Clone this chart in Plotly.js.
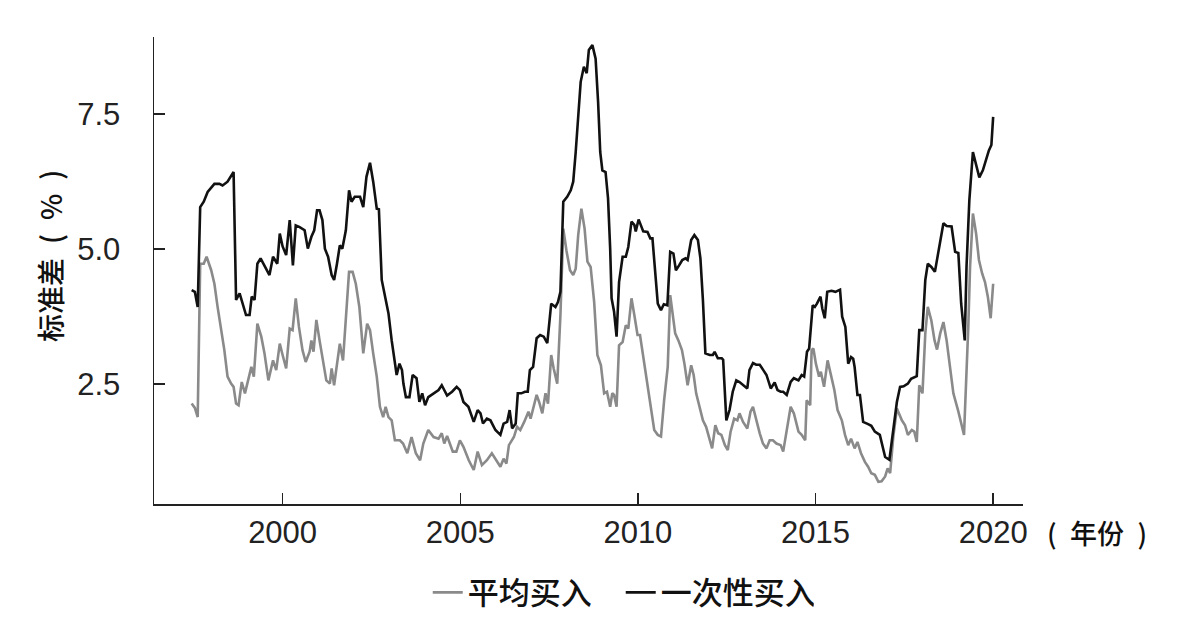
<!DOCTYPE html>
<html>
<head>
<meta charset="utf-8">
<script src="https://cdn.plot.ly/plotly-3.0.1.min.js"></script>
<style>html,body{margin:0;padding:0;background:#fff;}#chart{width:1182px;height:632px;}</style>
</head>
<body>
<div id="chart"></div>
<script>
// 平均买入 (dollar-cost averaging) — date (decimal year) and standard deviation (%)
const avgDates = [1997.44,1997.53,1997.61,1997.68,1997.78,1997.86,1997.99,1998.08,1998.17,1998.26,1998.36,1998.45,1998.55,1998.62,1998.69,1998.76,1998.85,1998.94,1999.02,1999.12,1999.19,1999.29,1999.40,1999.49,1999.60,1999.73,1999.82,1999.92,2000.00,2000.10,2000.20,2000.28,2000.37,2000.46,2000.56,2000.65,2000.76,2000.81,2000.87,2000.95,2001.04,2001.14,2001.23,2001.33,2001.38,2001.45,2001.52,2001.61,2001.70,2001.80,2001.87,2001.97,2002.06,2002.16,2002.27,2002.38,2002.46,2002.55,2002.65,2002.74,2002.83,2002.90,2002.98,2003.07,2003.16,2003.30,2003.39,2003.51,2003.63,2003.75,2003.87,2003.96,2004.10,2004.25,2004.39,2004.48,2004.55,2004.63,2004.79,2004.89,2004.99,2005.09,2005.24,2005.38,2005.49,2005.61,2005.75,2005.89,2006.03,2006.13,2006.22,2006.30,2006.37,2006.51,2006.60,2006.69,2006.80,2006.92,2006.98,2007.15,2007.22,2007.31,2007.40,2007.47,2007.56,2007.63,2007.73,2007.82,2007.90,2007.99,2008.09,2008.18,2008.25,2008.32,2008.41,2008.50,2008.58,2008.67,2008.77,2008.86,2008.96,2009.05,2009.13,2009.22,2009.28,2009.33,2009.40,2009.47,2009.57,2009.66,2009.73,2009.82,2009.90,2009.99,2010.06,2010.18,2010.27,2010.37,2010.46,2010.56,2010.65,2010.74,2010.84,2010.91,2010.97,2011.05,2011.14,2011.24,2011.31,2011.40,2011.50,2011.57,2011.64,2011.74,2011.83,2011.92,2012.02,2012.09,2012.18,2012.26,2012.35,2012.45,2012.53,2012.61,2012.71,2012.80,2012.86,2012.96,2013.08,2013.17,2013.24,2013.33,2013.43,2013.52,2013.62,2013.71,2013.80,2013.90,2014.02,2014.09,2014.19,2014.30,2014.39,2014.52,2014.61,2014.71,2014.75,2014.85,2014.89,2014.94,2015.01,2015.10,2015.15,2015.24,2015.34,2015.43,2015.53,2015.62,2015.74,2015.83,2015.92,2016.00,2016.10,2016.18,2016.28,2016.39,2016.48,2016.57,2016.67,2016.77,2016.86,2016.96,2017.03,2017.10,2017.19,2017.29,2017.43,2017.52,2017.60,2017.71,2017.78,2017.85,2017.92,2018.01,2018.09,2018.16,2018.26,2018.35,2018.42,2018.51,2018.60,2018.69,2018.79,2018.88,2019.01,2019.12,2019.18,2019.30,2019.35,2019.43,2019.52,2019.60,2019.69,2019.77,2019.85,2019.93,2020.00];
const avgValues = [2.14,2.06,1.89,4.73,4.73,4.86,4.61,4.36,3.93,3.56,3.13,2.64,2.51,2.45,2.14,2.11,2.54,2.33,2.57,2.82,2.64,3.62,3.38,3.07,2.57,2.94,2.76,3.25,3.04,2.79,3.53,3.50,4.09,3.56,3.13,2.91,3.10,3.31,3.10,3.69,3.31,2.88,2.57,2.51,2.79,2.48,2.82,3.25,2.94,4.02,4.58,4.58,4.36,3.93,3.07,3.62,3.50,3.07,2.64,2.08,1.89,2.08,1.89,1.83,1.46,1.46,1.40,1.22,1.52,1.22,1.09,1.40,1.65,1.52,1.49,1.59,1.40,1.54,1.25,1.25,1.46,1.34,1.09,0.91,1.25,1.00,1.09,1.22,1.06,0.97,1.12,1.03,1.37,1.52,1.71,1.65,1.80,1.99,1.86,2.30,2.17,1.96,2.33,2.14,3.04,2.79,2.51,3.78,5.38,4.97,4.61,4.52,4.64,5.26,5.75,5.38,4.77,4.67,4.02,3.04,2.85,2.33,2.36,2.08,2.33,2.30,2.08,3.22,3.28,3.59,3.53,4.09,3.78,3.41,3.41,2.86,2.45,2.08,1.65,1.56,1.53,2.21,2.82,4.15,3.87,3.44,3.31,3.13,2.88,2.48,2.85,2.67,2.33,2.05,1.83,1.71,1.49,1.31,1.74,1.59,1.56,1.37,1.28,1.62,1.86,1.83,1.96,1.80,1.68,1.99,2.08,1.83,1.59,1.40,1.31,1.46,1.46,1.40,1.37,1.25,1.68,2.08,1.96,1.62,1.56,1.46,2.20,2.11,3.13,3.16,2.88,2.64,2.73,2.45,2.94,2.70,2.39,2.02,1.83,1.56,1.37,1.49,1.31,1.43,1.22,1.06,0.97,0.85,0.82,0.69,0.70,0.79,0.94,0.85,1.53,2.05,1.83,1.74,1.56,1.65,1.62,1.43,2.48,2.33,3.44,3.93,3.68,3.31,3.14,3.44,3.65,3.31,2.82,2.33,2.02,1.71,1.56,3.56,4.67,5.66,5.29,4.80,4.55,4.39,4.12,3.72,4.36];

// 一次性买入 (lump-sum) — date (decimal year) and standard deviation (%)
const lumpDates = [1997.44,1997.53,1997.61,1997.68,1997.78,1997.89,1998.08,1998.22,1998.31,1998.45,1998.62,1998.69,1998.79,1998.88,1998.97,1999.07,1999.13,1999.21,1999.29,1999.38,1999.49,1999.63,1999.73,1999.85,1999.92,2000.00,2000.10,2000.20,2000.29,2000.37,2000.48,2000.62,2000.71,2000.81,2000.89,2000.97,2001.04,2001.12,2001.19,2001.28,2001.38,2001.45,2001.53,2001.61,2001.68,2001.78,2001.87,2001.94,2002.03,2002.18,2002.27,2002.36,2002.46,2002.55,2002.65,2002.71,2002.79,2002.88,2002.98,2003.07,2003.16,2003.21,2003.29,2003.36,2003.40,2003.47,2003.57,2003.66,2003.77,2003.85,2003.93,2004.01,2004.10,2004.25,2004.39,2004.48,2004.63,2004.77,2004.90,2004.99,2005.09,2005.23,2005.38,2005.49,2005.57,2005.64,2005.75,2005.85,2005.99,2006.13,2006.22,2006.32,2006.39,2006.46,2006.56,2006.62,2006.72,2006.82,2006.90,2006.96,2007.05,2007.15,2007.25,2007.35,2007.45,2007.56,2007.68,2007.75,2007.82,2007.90,2008.01,2008.11,2008.18,2008.25,2008.32,2008.39,2008.48,2008.56,2008.62,2008.72,2008.81,2008.88,2008.94,2009.00,2009.09,2009.16,2009.22,2009.26,2009.33,2009.40,2009.47,2009.57,2009.66,2009.73,2009.82,2009.90,2009.94,2010.02,2010.08,2010.15,2010.27,2010.35,2010.41,2010.48,2010.56,2010.65,2010.73,2010.83,2010.91,2011.00,2011.07,2011.16,2011.25,2011.34,2011.40,2011.50,2011.59,2011.69,2011.76,2011.83,2011.90,2012.02,2012.11,2012.16,2012.25,2012.36,2012.40,2012.49,2012.58,2012.67,2012.77,2012.86,2012.96,2013.08,2013.14,2013.24,2013.33,2013.43,2013.53,2013.62,2013.74,2013.85,2013.93,2014.02,2014.09,2014.19,2014.30,2014.39,2014.52,2014.61,2014.68,2014.76,2014.82,2014.87,2014.92,2014.98,2015.04,2015.14,2015.19,2015.26,2015.33,2015.45,2015.56,2015.69,2015.75,2015.84,2015.92,2016.00,2016.06,2016.10,2016.18,2016.25,2016.34,2016.48,2016.57,2016.67,2016.81,2016.89,2016.96,2017.08,2017.19,2017.29,2017.38,2017.48,2017.60,2017.69,2017.85,2017.92,2018.01,2018.09,2018.16,2018.26,2018.36,2018.46,2018.54,2018.60,2018.69,2018.83,2018.93,2019.02,2019.10,2019.20,2019.25,2019.33,2019.43,2019.52,2019.61,2019.71,2019.80,2019.88,2019.95,2020.00];
const lumpValues = [4.24,4.21,3.93,5.78,5.88,6.06,6.21,6.21,6.18,6.25,6.43,4.06,4.18,3.99,3.78,3.78,4.12,4.06,4.73,4.83,4.70,4.52,4.86,4.73,5.29,5.05,4.89,5.54,4.70,5.44,5.41,5.35,5.01,5.23,5.35,5.72,5.72,5.54,5.01,4.86,4.52,4.43,4.73,5.07,5.01,5.35,6.09,5.88,5.97,5.97,5.78,6.34,6.60,6.25,5.75,5.74,4.43,4.12,3.81,3.31,2.94,2.67,2.88,2.76,2.51,2.26,2.26,2.67,2.61,2.17,2.33,2.11,2.26,2.33,2.39,2.48,2.29,2.36,2.45,2.39,2.17,2.08,1.80,2.02,1.96,1.77,1.86,1.83,1.65,1.56,1.77,1.80,2.02,1.68,1.77,2.33,2.33,2.36,2.36,2.76,2.82,3.35,3.41,3.38,3.26,3.99,3.93,4.02,4.21,5.88,5.97,6.09,6.25,6.80,7.42,8.10,8.38,8.26,8.69,8.78,8.53,7.73,6.80,6.46,6.43,5.94,5.01,4.09,3.84,3.38,4.39,4.86,4.86,5.04,5.51,5.45,5.33,5.55,5.45,5.33,5.32,5.20,5.20,4.67,3.99,3.87,3.98,3.96,4.95,4.92,4.61,4.70,4.80,4.83,4.80,5.17,5.26,5.17,4.83,4.06,3.07,3.04,3.04,3.10,2.98,2.98,2.95,1.83,2.02,2.36,2.57,2.54,2.48,2.42,2.76,2.89,2.86,2.86,2.76,2.67,2.42,2.53,2.39,2.36,2.36,2.30,2.54,2.61,2.57,2.67,2.64,3.10,3.16,3.56,3.96,3.93,3.99,4.12,3.90,3.72,4.21,4.23,4.21,4.25,3.75,3.56,2.88,3.00,2.97,2.82,2.30,2.30,1.80,1.76,1.73,1.62,1.56,1.34,1.15,1.10,1.65,2.17,2.45,2.46,2.51,2.60,2.65,3.50,3.50,4.43,4.73,4.67,4.58,4.98,5.26,5.48,5.43,5.42,4.95,4.93,3.99,3.31,4.67,5.91,6.80,6.56,6.33,6.46,6.65,6.83,6.93,7.45];

const seriesNames = ['平均买入', '一次性买入'];
const xTickVals = [2000, 2005, 2010, 2015, 2020];
const yTickVals = [2.5, 5.0, 7.5];
const yTickText = ['2.5', '5.0', '7.5'];
const yTitle = '标准差\u2002(\u2002%\u2002)';
const xUnit = '(\u2002年份\u2002)';

const cjk = '"Noto Sans CJK SC", "Noto Sans", sans-serif';
const latin = '"Liberation Sans", Arial, sans-serif';

const traces = [
  {x: avgDates, y: avgValues, name: seriesNames[0], type: 'scatter', mode: 'lines',
   line: {color: '#8a8a8a', width: 2.6}},
  {x: lumpDates, y: lumpValues, name: seriesNames[1], type: 'scatter', mode: 'lines',
   line: {color: '#111111', width: 2.6}}
];

const layout = {
  width: 1182, height: 632,
  margin: {l: 154, r: 159, t: 37, b: 128},
  paper_bgcolor: '#ffffff', plot_bgcolor: '#ffffff',
  showlegend: true,
  legend: {orientation: 'h', x: 0.315, xanchor: 'left', y: -0.19, yanchor: 'middle',
           font: {family: cjk, size: 31, color: '#111', weight: 500},
           entrywidth: 148, entrywidthmode: 'pixels'},
  xaxis: {range: [1996.38, 2020.84], tickvals: xTickVals, ticks: 'inside', ticklen: 11,
          tickwidth: 1.5, tickcolor: '#222', showline: true, linecolor: '#222', linewidth: 1.5,
          showgrid: false, zeroline: false, ticklabelstandoff: 0,
          tickfont: {family: latin, size: 31, color: '#222'}},
  yaxis: {range: [0.28, 8.93], tickvals: yTickVals, ticktext: yTickText, ticks: 'inside', ticklen: 11,
          tickwidth: 1.5, tickcolor: '#222', showline: true, linecolor: '#222', linewidth: 1.5,
          showgrid: false, zeroline: false, ticklabelstandoff: 26,
          tickfont: {family: latin, size: 31, color: '#222'}},
  annotations: [
    {text: yTitle, xref: 'paper', yref: 'paper', x: 0, xshift: -104, y: 0.531,
     xanchor: 'center', yanchor: 'middle', textangle: -90, showarrow: false,
     font: {family: cjk, size: 28, color: '#111', weight: 500}},
    {text: xUnit, xref: 'paper', yref: 'paper', x: 1.0, xshift: 22, y: -0.062,
     xanchor: 'left', yanchor: 'middle', showarrow: false,
     font: {family: cjk, size: 27, color: '#111', weight: 500}}
  ]
};

Plotly.newPlot('chart', traces, layout, {staticPlot: true, displayModeBar: false});
</script>
</body>
</html>
